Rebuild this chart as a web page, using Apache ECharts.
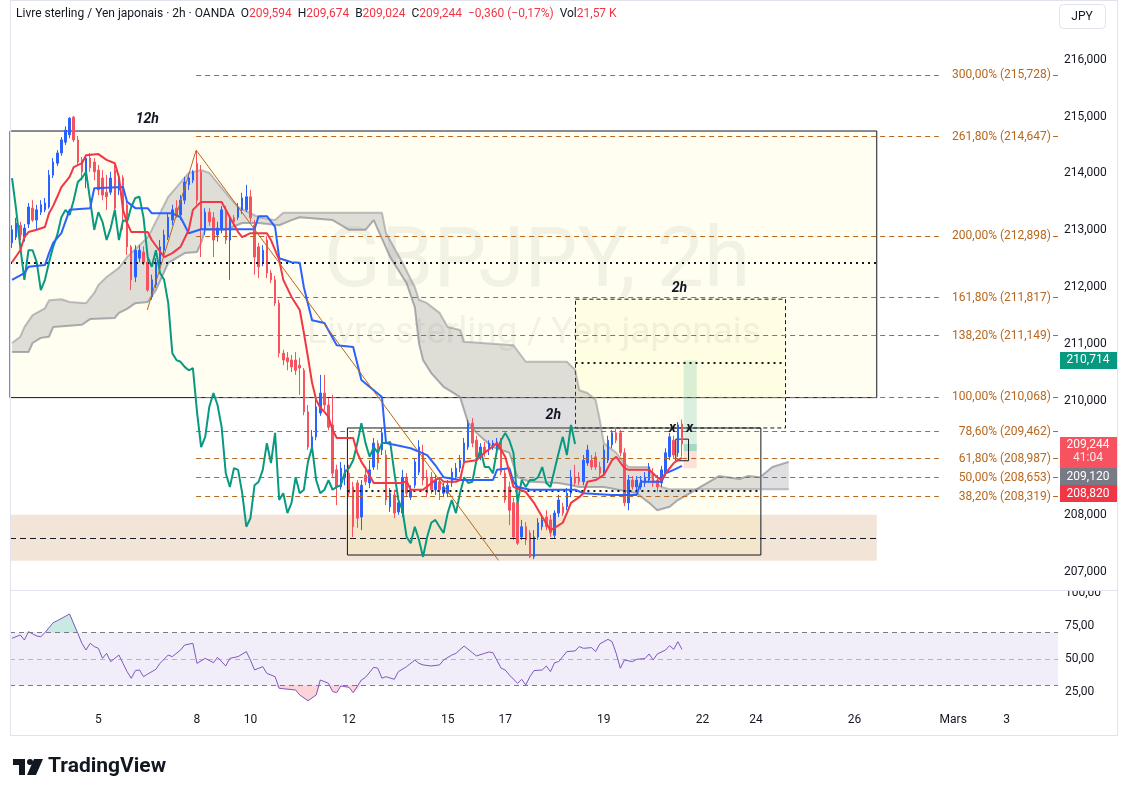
<!DOCTYPE html>
<html><head><meta charset="utf-8">
<script src="https://cdn.jsdelivr.net/npm/echarts@6.0.0/dist/echarts.min.js"></script>
<style>html,body{margin:0;padding:0;background:#fff;}#c{width:1131px;height:796px;}</style>
</head><body><div id="c"></div>
<script>
// ---------- DATA ----------
const opens = [212.78,212.88,213.09,212.88,213.11,213.39,213.18,213.32,213.36,213.41,
213.97,214.18,214.36,214.55,214.68,214.99,214.59,214.24,213.88,214.27,
214.20,214.06,213.92,213.67,213.67,214.06,213.71,213.92,213.45,212.71,
212.18,212.51,212.62,212.44,211.83,212.04,212.39,212.65,212.88,213.18,
213.39,213.27,213.53,213.80,213.88,214.18,214.03,213.01,213.32,213.22,
212.92,213.01,213.36,212.83,213.22,213.23,213.36,213.36,213.59,213.09,
212.71,212.43,212.83,212.25,212.13,211.72,210.84,210.76,210.72,210.72,
210.63,210.54,209.81,209.19,209.37,209.79,210.14,209.93,209.58,208.79,
208.49,208.65,208.73,208.49,208.56,207.96,208.70,208.56,208.84,209.26,
209.14,209.05,208.14,208.35,208.05,208.03,208.66,208.31,208.52,208.75,
209.09,208.66,208.66,208.44,208.58,208.38,208.38,208.56,208.66,208.82,
208.91,209.19,209.61,209.31,209.02,209.19,209.14,209.19,209.19,209.28,
208.73,208.49,208.21,208.21,207.61,207.79,207.68,207.26,207.61,207.79,
207.96,207.91,207.64,208.03,208.14,208.14,208.38,208.66,208.66,208.58,
208.91,208.96,209.02,208.84,208.73,208.96,209.23,209.44,209.44,209.09,
208.21,208.61,208.49,208.49,208.56,208.61,208.73,208.61,208.56,208.73,
209.02,209.31,209.09,209.594];
const highs = [213.09,213.22,213.15,213.11,213.48,213.53,213.45,213.53,213.57,214.06,
214.27,214.41,214.64,214.83,214.99,215.01,214.66,214.29,214.32,214.36,
214.27,214.15,214.06,213.97,214.03,214.15,213.97,213.97,213.53,212.74,
212.74,212.74,212.72,212.51,212.22,212.51,212.83,213.01,213.31,213.45,
213.53,213.62,213.94,213.99,214.06,214.41,214.15,213.39,213.39,213.32,
213.15,213.43,213.43,213.27,213.27,213.48,213.66,213.80,213.71,213.18,
212.78,212.74,212.90,212.30,212.20,211.78,210.90,210.86,210.81,210.86,
210.76,210.58,209.93,209.49,210.02,210.46,210.46,210.05,210.11,208.88,
208.93,208.88,208.88,208.58,208.61,208.61,208.79,208.96,209.35,209.31,
209.53,209.14,208.47,208.44,208.30,208.79,208.73,208.52,209.00,209.31,
209.23,208.79,208.75,208.70,208.65,208.56,208.61,208.82,208.91,209.05,
209.35,209.67,209.70,209.39,209.26,209.28,209.31,209.31,209.35,209.35,
208.79,208.58,208.30,208.26,207.91,207.87,207.73,207.73,207.94,208.00,
208.08,208.00,208.08,208.35,208.21,208.47,208.79,208.88,208.75,209.05,
209.23,209.05,209.10,208.93,209.23,209.39,209.49,209.53,209.49,209.17,
208.70,208.68,208.68,208.68,208.75,208.91,208.82,208.70,208.86,209.17,
209.44,209.39,209.63,209.674];
const lows = [212.69,212.83,212.83,212.80,213.04,213.15,213.01,213.27,213.32,213.38,
213.92,214.13,214.31,214.50,214.62,214.55,214.15,213.88,213.74,214.03,
213.88,213.62,213.53,213.36,213.62,213.32,213.62,213.01,212.57,211.95,
212.09,212.44,212.39,211.92,211.78,211.99,212.34,212.57,212.83,213.09,
213.22,213.18,213.46,213.71,213.83,213.45,212.53,212.92,213.08,212.53,
212.80,212.95,212.76,212.13,213.08,213.18,213.29,213.32,213.15,212.22,
212.16,212.37,212.16,212.07,211.67,210.77,210.63,210.54,210.51,210.46,
210.11,209.75,209.14,209.14,209.31,209.74,209.84,209.49,208.65,208.17,
208.44,208.52,208.31,207.61,207.77,207.73,208.52,208.47,208.79,208.79,
209.05,208.17,208.05,207.94,208.00,207.96,208.31,208.26,208.47,208.70,
208.52,208.31,208.37,208.35,208.26,208.31,208.31,208.49,208.61,208.75,
208.84,209.14,209.19,208.96,208.96,209.02,209.05,209.14,209.14,208.70,
208.21,207.82,207.56,207.47,207.56,207.47,207.24,207.22,207.56,207.73,
207.73,207.61,207.59,207.96,207.98,208.08,208.31,208.51,208.52,208.52,
208.86,208.79,208.79,208.66,208.68,208.91,209.17,209.26,209.03,208.15,
208.08,208.44,208.40,208.44,208.49,208.56,208.49,208.40,208.49,208.68,
208.96,209.00,209.02,209.024];
const closes = [213.01,213.13,212.92,213.04,213.41,213.18,213.36,213.45,213.48,213.97,
214.20,214.36,214.59,214.76,214.97,214.59,214.20,214.03,214.27,214.10,
214.03,213.71,213.62,213.59,213.92,213.39,213.92,213.36,212.71,212.13,
212.65,212.65,212.44,211.95,212.13,212.44,212.71,212.92,213.23,213.36,
213.27,213.53,213.85,213.92,214.03,213.53,213.01,213.32,213.15,212.83,
213.04,213.36,212.83,213.18,213.15,213.41,213.57,213.59,213.22,212.53,
212.36,212.65,212.25,212.13,211.72,210.84,210.72,210.69,210.60,210.54,
210.58,209.81,209.19,209.37,209.90,210.14,209.93,209.54,208.73,208.49,
208.82,208.79,208.38,207.79,207.94,208.52,208.58,208.79,209.26,208.91,
209.44,208.26,208.38,208.03,208.21,208.66,208.38,208.44,208.93,209.19,
208.61,208.38,208.44,208.61,208.44,208.49,208.52,208.75,208.82,208.96,
209.26,209.61,209.26,209.02,209.19,209.09,209.26,209.26,209.28,208.75,
208.26,208.08,207.61,207.50,207.79,207.56,207.26,207.61,207.86,207.91,
207.79,207.68,208.03,208.26,208.03,208.38,208.66,208.56,208.58,208.96,
209.14,208.84,208.84,208.73,209.14,209.31,209.44,209.31,209.09,208.21,
208.61,208.49,208.61,208.61,208.66,208.84,208.56,208.49,208.79,209.09,
209.37,209.05,209.58,209.244];

const tenkan = [[0,212.44],[2,212.65],[3,212.88],[4,212.97],[6,213.01],[8,213.06],[9,213.30],[10,213.43],[11,213.59],[12,213.76],[14,213.94],[15,214.11],[17,214.18],[18,214.32],[21,214.34],[23,214.24],[25,214.18],[26,213.94],[27,213.36],[28,213.13],[29,212.97],[33,212.97],[34,212.83],[37,212.53],[39,212.60],[41,212.71],[43,213.01],[44,213.36],[46,213.50],[51,213.50],[53,213.23],[55,212.97],[56,212.88],[58,212.95],[62,212.95],[63,212.83],[65,212.48],[66,212.13],[68,211.83],[70,211.60],[71,211.20],[72,210.77],[73,210.32],[74,210.02],[75,209.88],[76,209.81],[77,209.72],[78,209.49],[79,209.35],[83,209.35],[84,209.09],[85,208.93],[86,208.82],[88,208.56],[95,208.56],[96,208.59],[97,208.44],[100,208.44],[103,208.61],[104,208.65],[105,208.58],[108,208.58],[109,208.61],[110,208.93],[113,208.96],[115,209.09],[118,209.26],[120,209.02],[122,208.49],[125,208.40],[127,208.21],[129,207.96],[131,207.73],[132,207.77],[134,207.86],[135,208.03],[136,208.21],[138,208.31],[139,208.38],[140,208.58],[142,208.61],[144,208.70],[146,208.96],[147,209.02],[149,208.82],[150,208.79],[155,208.79],[157,208.66],[158,208.61],[159,208.73],[161,208.91],[162,208.96],[163,209.00]];
const kijun = [[0,212.13],[3,212.25],[4,212.36],[8,212.39],[9,212.60],[10,212.78],[12,212.95],[14,213.36],[19,213.39],[20,213.74],[27,213.76],[28,213.50],[30,213.39],[33,213.39],[34,213.30],[39,213.30],[41,213.23],[43,212.95],[46,213.02],[59,213.02],[60,213.25],[62,213.25],[64,213.06],[65,212.51],[68,212.44],[70,212.43],[71,212.00],[73,211.42],[76,211.37],[79,210.98],[83,210.95],[85,210.37],[90,210.07],[91,209.26],[93,209.23],[97,209.17],[101,209.05],[103,208.87],[105,208.66],[109,208.61],[117,208.61],[118,208.79],[121,208.82],[122,208.58],[123,208.49],[126,208.44],[137,208.44],[139,208.38],[146,208.35],[152,208.35],[153,208.58],[158,208.58],[159,208.73],[161,208.79],[163,208.86]];
const spanUpper = [[0,211.02],[2,211.13],[3,211.30],[5,211.51],[8,211.63],[9,211.77],[12,211.79],[14,211.74],[18,211.72],[20,211.90],[21,212.04],[23,212.18],[26,212.34],[28,212.53],[31,212.74],[33,212.88],[34,213.01],[38,213.59],[43,214.01],[46,214.06],[48,214.01],[52,213.66],[55,213.41],[60,213.23],[64,213.18],[66,213.31],[90,213.31],[91,212.95],[95,212.43],[98,212.00],[99,211.78],[101,211.72],[104,211.55],[106,211.30],[109,211.25],[110,211.04],[122,210.98],[125,210.69],[135,210.69],[137,210.55],[138,210.19],[140,210.14],[142,210.02],[143,209.67],[144,209.26],[147,209.09],[149,208.91],[150,208.84],[155,208.84],[156,208.61],[158,208.49],[160,208.45],[189,208.45]];
const spanLower = [[0,210.86],[4,210.86],[5,211.02],[7,211.11],[9,211.13],[10,211.30],[17,211.34],[19,211.44],[25,211.46],[26,211.55],[28,211.62],[30,211.72],[33,211.74],[35,211.95],[38,212.43],[42,212.60],[45,212.62],[46,212.78],[47,213.01],[50,213.01],[52,213.01],[56,213.13],[60,213.13],[65,213.09],[68,213.18],[70,213.23],[78,213.18],[82,213.01],[86,213.01],[88,213.18],[92,212.53],[96,212.07],[98,211.65],[99,211.02],[100,210.72],[102,210.49],[105,210.25],[107,210.16],[109,210.07],[111,209.61],[113,209.44],[115,209.31],[117,209.19],[121,209.09],[123,208.66],[126,208.58],[133,208.56],[136,208.52],[138,208.49],[144,208.49],[152,208.38],[155,208.21],[157,208.08],[160,208.14],[162,208.26],[165,208.38],[167,208.47],[172,208.68],[177,208.63],[179,208.68],[182,208.66],[185,208.84],[189,208.93]];
const chikouShift = 26;

const rsi = [[0,65.7],[2,68.2],[3,64.4],[4,70.7],[6,67.4],[7,66.9],[8,70.0],[10,77.5],[11,79.0],[14,84.1],[16,69.4],[17,61.9],[18,56.8],[19,61.9],[20,59.4],[21,58.1],[22,50.5],[23,54.3],[24,48.0],[26,53.0],[27,46.7],[28,40.4],[29,35.4],[30,41.2],[31,41.7],[32,36.6],[33,38.6],[35,42.2],[36,46.7],[38,53.0],[39,51.8],[41,56.8],[42,60.6],[44,61.9],[45,46.7],[47,50.5],[49,47.2],[50,51.3],[52,44.7],[53,50.5],[55,51.8],[57,55.6],[58,49.2],[59,41.7],[61,44.2],[62,39.1],[64,36.6],[65,27.8],[69,26.5],[70,22.7],[72,18.4],[74,22.7],[75,34.1],[77,31.6],[78,25.3],[79,24.5],[80,29.6],[82,28.5],[83,24.5],[85,34.1],[86,36.1],[88,43.7],[89,43.0],[90,35.4],[91,36.6],[93,34.6],[94,40.4],[96,44.2],[98,49.2],[99,46.7],[100,45.5],[102,44.7],[104,45.5],[105,49.2],[107,53.0],[108,54.3],[110,59.8],[112,54.8],[113,52.3],[115,54.3],[116,55.3],[117,54.8],[119,43.0],[120,41.7],[121,37.9],[123,31.6],[124,34.6],[125,30.3],[126,36.6],[127,41.2],[129,41.7],[130,44.7],[131,40.4],[132,47.2],[133,48.0],[134,51.8],[135,55.6],[137,56.1],[138,59.4],[139,58.1],[141,58.6],[142,55.6],[143,61.4],[145,64.9],[146,63.1],[147,54.3],[148,43.0],[149,49.2],[151,48.0],[152,49.8],[154,50.3],[155,53.8],[156,49.2],[157,53.8],[159,56.8],[160,60.1],[161,57.3],[162,63.1],[163,57.3]];

const dateTickIdx = [21,45,58,82,106,120,144,168,181,205,229,242];
const dateTickText = ['5','8','10','12','15','17','19','22','24','26','Mars','3'];
const priceTicks = [207,208,209,210,211,212,213,214,215,216];
const rsiTicks = [25,50,75,100];

const fibPct = ['300,00%','261,80%','200,00%','161,80%','138,20%','100,00%','78,60%','61,80%','50,00%','38,20%'];
const fibPrice = [215.728,214.647,212.898,211.817,211.149,210.068,209.462,208.987,208.653,208.319];
const fibSpan = [44.8, 225.5];
const fibLabelAt = 252.8;
const fibTail = [253.3, 254.5];

// drawn boxes: [x0, x1, priceTop, priceBottom]
const box12h = [-0.5, 210.4, 214.746, 210.06];
const boxUpper2h = [137.1, 188.2, 211.79, 209.526];
const boxLower2h = [81.6, 182.2, 209.526, 207.293];
const zoneBrown = [-0.5, 210.4, 208.0, 207.19];
const boxSmall = [161.5, 164.6, 209.33, 208.95];
// level lines: [x0, x1, price]
const dotted12h = [-0.5, 210.4, 212.426];
const dottedUpper2h = [137.1, 188.2, 210.668];
const dottedLower2h = [81.6, 182.2, 208.418];
const dashedBrown = [-0.5, 210.4, 207.592];
const trendLine = [[32.9, 211.6],[44.8, 214.41],[118.35, 207.2]];
// long position tool
const posSpan = [163.4, 166.6];
const posEntry = 209.120, posTarget = 210.714, posStop = 208.820, lastPrice = 209.244;
const noteText = ['12h','2h','2h','x','x'];
const noteX = [32.9, 131.7, 162.4, 160.7, 164.9];
const noteP = [214.94, 209.74, 211.97, 209.52, 209.52];

// ---------- CHART ----------
const FONT = 'Roboto, "Noto Sans", "DejaVu Sans", sans-serif';
const N = 255;
const PMIN = 206.678, PMAX = 217.014, RMIN = 15.15, RMAX = 102.27;
const cats = Array.from({length: N}, (_, i) => String(i));
const candleData = opens.map((o, i) => [o, closes[i], lows[i], highs[i]]);
const chikou = closes.slice(chikouShift).map((c, i) => [i, c]);
const BROWN = '#b8671e';
const YELLOW = 'rgba(255,235,59,0.075)';

function seg(x0, x1, p, style) { return [{coord: [x0, p], lineStyle: style}, {coord: [x1, p]}]; }
function area(b, style) { return [{coord: [b[0], b[2]], itemStyle: style}, {coord: [b[1], b[3]]}]; }

const lineItems = [];
fibPrice.forEach(p => {
  lineItems.push(seg(fibSpan[0], fibSpan[1], p, {color: BROWN, width: 1, type: [5, 4]}));
  lineItems.push(seg(fibTail[0], fibTail[1], p, {color: BROWN, width: 1, type: 'solid'}));
});
const dotStyle = {color: '#131722', width: 2, type: [2, 4]};
lineItems.push(seg(dotted12h[0], dotted12h[1], dotted12h[2], dotStyle));
lineItems.push(seg(dottedUpper2h[0], dottedUpper2h[1], dottedUpper2h[2], dotStyle));
lineItems.push(seg(dottedLower2h[0], dottedLower2h[1], dottedLower2h[2], dotStyle));
lineItems.push(seg(dashedBrown[0], dashedBrown[1], dashedBrown[2], {color: '#131722', width: 1, type: [6, 4]}));

const chart = echarts.init(document.getElementById('c'), null, {width: 1131, height: 796});

const option = {
  animation: false,
  backgroundColor: '#ffffff',
  textStyle: {fontFamily: FONT},
  grid: [
    {left: 10, right: 73, top: 2, height: 588},
    {left: 10, right: 73, top: 590, height: 115}
  ],
  xAxis: [
    {type: 'category', gridIndex: 0, data: cats, boundaryGap: true, show: false},
    {type: 'value', gridIndex: 0, min: -0.5, max: N - 0.5, show: false},
    {type: 'category', gridIndex: 1, data: cats, boundaryGap: true,
      axisLine: {show: false}, axisTick: {show: false}, splitLine: {show: false},
      axisLabel: {
        interval: (idx) => dateTickIdx.includes(idx),
        formatter: (v, idx) => { const k = dateTickIdx.indexOf(idx); return k >= 0 ? dateTickText[k] : ''; },
        color: '#131722', fontSize: 12, margin: 9, fontFamily: FONT
      }},
    {type: 'value', gridIndex: 1, min: -0.5, max: N - 0.5, show: false}
  ],
  yAxis: [
    {type: 'value', gridIndex: 0, position: 'right', min: PMIN, max: PMAX,
      splitLine: {show: false}, axisLine: {show: false}, axisTick: {show: false},
      axisLabel: {customValues: priceTicks, formatter: v => v.toFixed(3).replace('.', ','),
        color: '#131722', fontSize: 12, margin: 6, fontFamily: FONT}},
    {type: 'value', gridIndex: 1, position: 'right', min: RMIN, max: RMAX,
      splitLine: {show: false}, axisLine: {show: false}, axisTick: {show: false},
      axisLabel: {customValues: rsiTicks, formatter: v => v.toFixed(2).replace('.', ','),
        color: '#131722', fontSize: 12, margin: 7, fontFamily: FONT}}
  ],
  series: [
    {type: 'line', xAxisIndex: 1, yAxisIndex: 0, data: [], z: 1, silent: true,
      markArea: {silent: true, label: {show: false}, data: [
        area(box12h, {color: YELLOW, borderColor: '#131722', borderWidth: 1}),
        area(zoneBrown, {color: '#f2e5d8', borderWidth: 0}),
        area(boxLower2h, {color: YELLOW, borderColor: '#131722', borderWidth: 1}),
        area(boxUpper2h, {color: YELLOW, borderColor: '#131722', borderWidth: 1, borderType: [4, 3]}),
        area([posSpan[0], posSpan[1], posTarget, posEntry], {color: 'rgba(8,153,129,0.15)', borderWidth: 0}),
        area([posSpan[0], posSpan[1], lastPrice, posEntry], {color: 'rgba(8,153,129,0.25)', borderWidth: 0}),
        area([posSpan[0], posSpan[1], posEntry, posStop], {color: 'rgba(242,54,69,0.15)', borderWidth: 0})
      ]}},
    {type: 'custom', xAxisIndex: 1, yAxisIndex: 0, z: 2, silent: true, data: [[0, 210]],
      renderItem: (params, api) => {
        const pts = spanUpper.map(p => api.coord(p)).concat(spanLower.slice().reverse().map(p => api.coord(p)));
        return {type: 'polygon', shape: {points: pts}, style: {fill: 'rgba(120,123,134,0.24)'}};
      }},
    {type: 'line', xAxisIndex: 1, yAxisIndex: 0, z: 2, data: spanUpper, showSymbol: false, silent: true,
      lineStyle: {color: 'rgba(120,123,134,0.45)', width: 2}},
    {type: 'line', xAxisIndex: 1, yAxisIndex: 0, z: 2, data: spanLower, showSymbol: false, silent: true,
      lineStyle: {color: 'rgba(120,123,134,0.6)', width: 2}},
    {type: 'line', xAxisIndex: 1, yAxisIndex: 0, data: [], z: 3, silent: true,
      markLine: {silent: true, symbol: ['none', 'none'], label: {show: false}, data: lineItems}},
    {type: 'candlestick', xAxisIndex: 0, yAxisIndex: 0, z: 4, data: candleData, barWidth: 2, silent: true,
      itemStyle: {color: '#2962ff', color0: '#f7525f', borderColor: '#2962ff', borderColor0: '#f7525f', borderWidth: 1}},
    {type: 'line', xAxisIndex: 1, yAxisIndex: 0, z: 5, data: chikou, showSymbol: false, silent: true,
      lineStyle: {color: '#089981', width: 2}},
    {type: 'line', xAxisIndex: 1, yAxisIndex: 0, z: 5, data: kijun, showSymbol: false, silent: true,
      lineStyle: {color: '#2962ff', width: 2}},
    {type: 'line', xAxisIndex: 1, yAxisIndex: 0, z: 5, data: tenkan, showSymbol: false, silent: true,
      lineStyle: {color: '#f23645', width: 2}},
    {type: 'line', xAxisIndex: 1, yAxisIndex: 0, z: 5, data: trendLine, showSymbol: false, silent: true,
      lineStyle: {color: BROWN, width: 1}},
    {type: 'line', xAxisIndex: 1, yAxisIndex: 0, data: [], z: 6, silent: true,
      markArea: {silent: true, label: {show: false}, data: [
        area(boxSmall, {color: 'rgba(0,0,0,0)', borderColor: '#131722', borderWidth: 1})]}},
    {type: 'custom', xAxisIndex: 1, yAxisIndex: 0, z: 7, silent: true,
      data: noteX.map((x, i) => [x, noteP[i]]),
      renderItem: (params, api) => {
        const p = api.coord([api.value(0), api.value(1)]);
        return {type: 'text', x: p[0], y: p[1], style: {text: noteText[params.dataIndex], fill: '#131722',
          font: 'italic bold 14px ' + FONT, align: 'center', verticalAlign: 'middle'}};
      }},
    {type: 'custom', xAxisIndex: 1, yAxisIndex: 0, z: 7, silent: true,
      data: fibPrice.map(p => [fibLabelAt, p]),
      renderItem: (params, api) => {
        const p = api.coord([api.value(0), api.value(1)]);
        const i = params.dataIndex;
        return {type: 'text', x: p[0], y: p[1], style: {
          text: fibPct[i] + ' (' + fibPrice[i].toFixed(3).replace('.', ',') + ')',
          fill: BROWN, font: '12px ' + FONT, align: 'right', verticalAlign: 'middle'}};
      }},
    {type: 'line', xAxisIndex: 3, yAxisIndex: 1, data: [], z: 1, silent: true,
      markArea: {silent: true, label: {show: false}, data: [
        [{coord: [-0.5, 70], itemStyle: {color: 'rgba(126,87,194,0.1)'}}, {coord: [N - 0.5, 30]}]]},
      markLine: {silent: true, symbol: ['none', 'none'], label: {show: false}, data: [
        seg(-0.5, N - 0.5, 70, {color: '#787b86', width: 1, type: [5, 4]}),
        seg(-0.5, N - 0.5, 50, {color: 'rgba(120,123,134,0.5)', width: 1, type: [5, 4]}),
        seg(-0.5, N - 0.5, 30, {color: '#787b86', width: 1, type: [5, 4]})]}},
    {type: 'custom', xAxisIndex: 3, yAxisIndex: 1, z: 2, silent: true, data: [[0, 50]],
      renderItem: (params, api) => {
        const first = rsi[0][0], last = rsi[rsi.length - 1][0];
        const ob = rsi.map(([i, v]) => api.coord([i, Math.max(v, 70)])).concat([api.coord([last, 70]), api.coord([first, 70])]);
        const os = rsi.map(([i, v]) => api.coord([i, Math.min(v, 30)])).concat([api.coord([last, 30]), api.coord([first, 30])]);
        return {type: 'group', children: [
          {type: 'polygon', shape: {points: ob}, style: {fill: 'rgba(8,153,129,0.22)'}},
          {type: 'polygon', shape: {points: os}, style: {fill: 'rgba(242,54,69,0.22)'}}]};
      }},
    {type: 'line', xAxisIndex: 3, yAxisIndex: 1, z: 3, data: rsi, showSymbol: false, silent: true,
      lineStyle: {color: '#7e57c2', width: 1}}
  ]
};
chart.setOption(option);

const yOf = p => chart.convertToPixel({yAxisIndex: 0}, p);
const yG = yOf(posTarget), yR = yOf(lastPrice);
const TAGX = 1060, TAGW = 57, TX = 1088;
function tag(top, h, fill) { return {type: 'rect', z: 50, shape: {x: TAGX, y: top, width: TAGW, height: h}, style: {fill: fill}}; }
function ttext(y, s, fill) { return {type: 'text', z: 51, x: TX, y: y, style: {text: s, fill: fill || '#ffffff', font: '12px ' + FONT, align: 'center', verticalAlign: 'middle'}}; }

chart.setOption({graphic: [
  {type: 'text', z: 0, x: 537, y: 265, silent: true, style: {text: 'GBPJPY, 2h', fill: 'rgba(120,123,134,0.11)', font: '84px ' + FONT, align: 'center', verticalAlign: 'middle'}},
  {type: 'text', z: 0, x: 534, y: 334, silent: true, style: {text: 'Livre sterling / Yen japonais', fill: 'rgba(120,123,134,0.11)', font: '37px ' + FONT, align: 'center', verticalAlign: 'middle'}},
  {type: 'rect', z: 40, shape: {x: 10.5, y: 0.5, width: 1107, height: 735}, style: {fill: 'none', stroke: '#e0e3eb', lineWidth: 1}},
  {type: 'line', z: 40, shape: {x1: 10, y1: 590.5, x2: 1118, y2: 590.5}, style: {stroke: '#e0e3eb', lineWidth: 1}},
  {type: 'rect', z: 39, shape: {x: 1059, y: 580, width: 58, height: 10}, style: {fill: '#ffffff'}},
  {type: 'text', z: 45, x: 16, y: 14, style: {
    text: '{a|Livre sterling / Yen japonais · 2h · OANDA}  {a|O}{b|209,594}  {a|H}{b|209,674}  {a|B}{b|209,024}  {a|C}{b|209,244}  {b|−0,360 (−0,17%)}  {a|Vol}{b|21,57 K}',
    verticalAlign: 'middle', font: '12px ' + FONT,
    rich: {a: {fill: '#131722', fontSize: 12, fontFamily: FONT}, b: {fill: '#f23645', fontSize: 12, fontFamily: FONT}}}},
  {type: 'rect', z: 45, shape: {x: 1059.5, y: 4.5, width: 46, height: 24, r: 4}, style: {fill: '#ffffff', stroke: '#e0e3eb', lineWidth: 1}},
  {type: 'text', z: 46, x: 1082, y: 17, style: {text: 'JPY', fill: '#131722', font: '12px ' + FONT, align: 'center', verticalAlign: 'middle'}},
  tag(yG - 8.5, 17, '#089981'), ttext(yG, '210,714'),
  tag(yR - 7, 31, '#f7525f'), ttext(yR + 1, '209,244'), ttext(yR + 14, '41:04', 'rgba(255,255,255,0.85)'),
  tag(yR + 24, 17, '#787b86'), ttext(yR + 32.5, '209,120'),
  tag(yR + 41, 17, '#f23645'), ttext(yR + 49.5, '208,820'),
  {type: 'rect', z: 45, shape: {x: 13, y: 759, width: 12, height: 6}, style: {fill: '#131722'}},
  {type: 'rect', z: 45, shape: {x: 19, y: 759, width: 6, height: 16}, style: {fill: '#131722'}},
  {type: 'circle', z: 45, shape: {cx: 30, cy: 762, r: 3}, style: {fill: '#131722'}},
  {type: 'polygon', z: 45, shape: {points: [[34, 759], [43, 759], [36, 775], [27, 775]]}, style: {fill: '#131722'}},
  {type: 'text', z: 45, x: 48, y: 767, style: {text: 'TradingView', fill: '#131722', font: 'bold 21px ' + FONT, verticalAlign: 'middle'}}
]});
</script>
</body></html>
